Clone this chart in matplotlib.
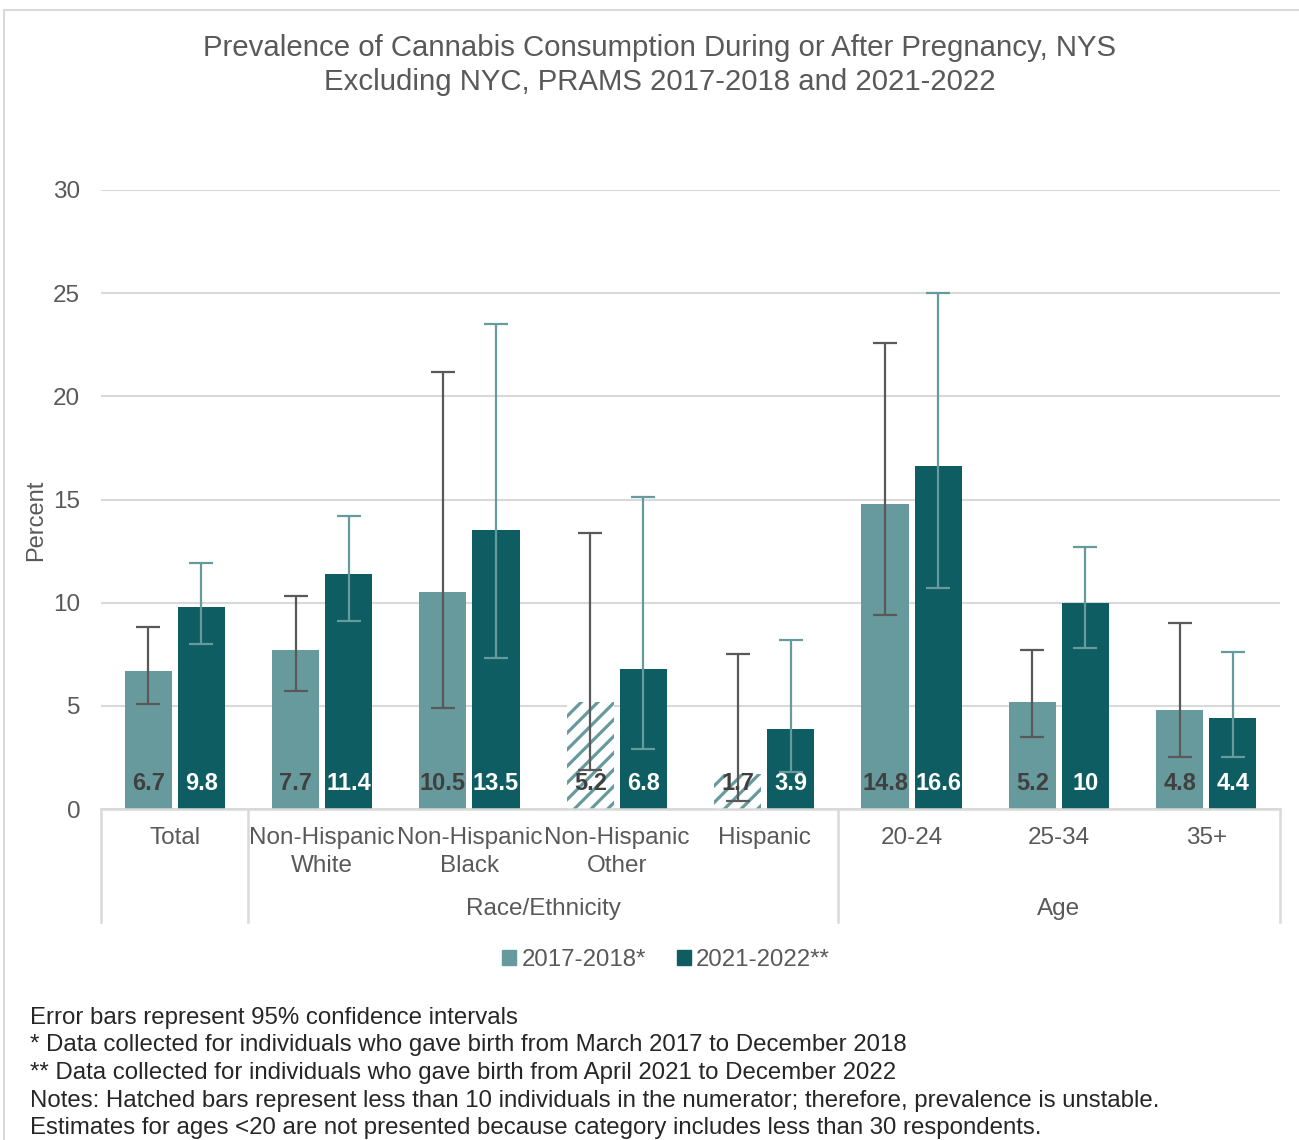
import numpy as np
import matplotlib.pyplot as plt
from matplotlib.patches import Rectangle
from matplotlib.transforms import blended_transform_factory

plt.rcParams['font.family'] = ['Liberation Sans', 'DejaVu Sans']
plt.rcParams['hatch.linewidth'] = 2.3

# ---------------------------------------------------------------
# Data
# ---------------------------------------------------------------
categories = ['Total', 'Non-Hispanic\nWhite', 'Non-Hispanic\nBlack',
              'Non-Hispanic\nOther', 'Hispanic', '20-24', '25-34', '35+']
groups = ['Race/Ethnicity', 'Age']
group_spans = [(1, 4), (5, 7)]          # first and last category index

series_names = ['2017-2018*', '2021-2022**']
prev_1718 = [6.7, 7.7, 10.5, 5.2, 1.7, 14.8, 5.2, 4.8]
low_1718 = [5.1, 5.7, 4.9, 1.9, 0.4, 9.4, 3.5, 2.5]
high_1718 = [8.8, 10.3, 21.2, 13.4, 7.5, 22.6, 7.7, 9.0]
hatched_1718 = [False, False, False, True, True, False, False, False]

prev_2122 = [9.8, 11.4, 13.5, 6.8, 3.9, 16.6, 10, 4.4]
low_2122 = [8.0, 9.1, 7.3, 2.9, 1.8, 10.7, 7.8, 2.5]
high_2122 = [11.9, 14.2, 23.5, 15.1, 8.2, 25.0, 12.7, 7.6]

footnotes = [
    'Error bars represent 95% confidence intervals',
    '* Data collected for individuals who gave birth from March 2017 to December 2018',
    '** Data collected for individuals who gave birth from April 2021 to December 2022',
    'Notes: Hatched bars represent less than 10 individuals in the numerator; therefore, prevalence is unstable.',
    'Estimates for ages <20 are not presented because category includes less than 30 respondents.',
]

# ---------------------------------------------------------------
# Style
# ---------------------------------------------------------------
c_light = '#669a9d'
c_dark = '#0e5d63'
c_text = '#595959'
c_grid = '#d9d9d9'
W, H = 1299, 1140

fig = plt.figure(figsize=(W / 100, H / 100), dpi=100)
ax = fig.add_axes([101 / W, (H - 809) / H, 1179 / W, 619 / H])

x = np.arange(len(categories))
bw = 0.32
off = 0.18

for i in range(len(categories)):
    if hatched_1718[i]:
        ax.bar(x[i] - off, prev_1718[i], bw, color='white', edgecolor=c_light,
               linewidth=0, hatch='//', zorder=2)
    else:
        ax.bar(x[i] - off, prev_1718[i], bw, color=c_light, zorder=2)
ax.bar(x + off, prev_2122, bw, color=c_dark, zorder=2)

# confidence intervals
p1, p2 = np.array(prev_1718), np.array(prev_2122)
err1 = [p1 - np.array(low_1718), np.array(high_1718) - p1]
err2 = [p2 - np.array(low_2122), np.array(high_2122) - p2]
ax.errorbar(x - off, p1, yerr=err1, fmt='none', ecolor='#595959',
            elinewidth=1.6, capsize=8.5, capthick=1.6, zorder=3)
ax.errorbar(x + off, p2, yerr=err2, fmt='none', ecolor=c_light,
            elinewidth=1.6, capsize=8.5, capthick=1.6, zorder=3)

# value labels at the bottom of the bars
for i in range(len(categories)):
    ax.annotate(f'{prev_1718[i]:g}', (x[i] - off, 0), xytext=(0, 18),
                textcoords='offset points', ha='center', va='center',
                fontsize=17, fontweight='bold', color='#404040', zorder=4)
    ax.annotate(f'{prev_2122[i]:g}', (x[i] + off, 0), xytext=(0, 18),
                textcoords='offset points', ha='center', va='center',
                fontsize=17, fontweight='bold', color='white', zorder=4)

ax.set_xlim(-0.5, len(categories) - 0.5)
ax.set_ylim(0, 30)
ax.set_yticks(range(0, 31, 5))
ax.yaxis.grid(True, color=c_grid, linewidth=1.5)
ax.set_axisbelow(True)
ax.tick_params(axis='y', length=0, pad=15, labelsize=17.5, labelcolor=c_text)
ax.set_xticks([])
for s in ['top', 'right', 'left']:
    ax.spines[s].set_visible(False)
ax.spines['bottom'].set_color(c_grid)
ax.spines['bottom'].set_linewidth(1.8)

ax.set_ylabel('Percent', fontsize=17, color=c_text)
ax.yaxis.set_label_coords(-54 / 1179, 0.467)

# category axis with group brackets
trans = blended_transform_factory(ax.transData, ax.transAxes)
px = 1 / 619
for b in [-0.5, 0.5, 4.5, 7.5]:
    ax.plot([b, b], [0, -113 * px], color=c_grid, lw=1.8, transform=trans,
            clip_on=False)
for i, lab in enumerate(categories):
    ax.text(x[i], -18 * px, lab, transform=trans, ha='center', va='top',
            fontsize=17.5, color=c_text, linespacing=1.38)
for g, (a, b) in zip(groups, group_spans):
    ax.text((x[a] + x[b]) / 2, -100 * px, g, transform=trans, ha='center',
            va='center', fontsize=17.5, color=c_text)

# title
fig.text(0.508, 1 - 65 / H,
         'Prevalence of Cannabis Consumption During or After Pregnancy, NYS\n'
         'Excluding NYC, PRAMS 2017-2018 and 2021-2022',
         ha='center', va='center', fontsize=21.2, color=c_text, linespacing=1.3)

# legend
handles = [Rectangle((0, 0), 1, 1, color=c_light), Rectangle((0, 0), 1, 1, color=c_dark)]
fig.legend(handles, series_names, loc='center', bbox_to_anchor=(666 / W, 1 - 960 / H),
           ncol=2, frameon=False, fontsize=17.3, labelcolor=c_text,
           handlelength=0.6, handleheight=0.6, handletextpad=0.2, columnspacing=1.3)

# footnotes
for k, t in enumerate(footnotes):
    fig.text(30 / W, 1 - (1018 + 27.5 * k) / H, t, ha='left', va='center',
             fontsize=17.3, color='#262626')

# outer frame
fig.add_artist(Rectangle((4 / W, -0.05), 1.2, 1.05 - 10 / H, transform=fig.transFigure,
                         fill=False, edgecolor=c_grid, linewidth=1.5))

fig.savefig('out.png', dpi=100)
